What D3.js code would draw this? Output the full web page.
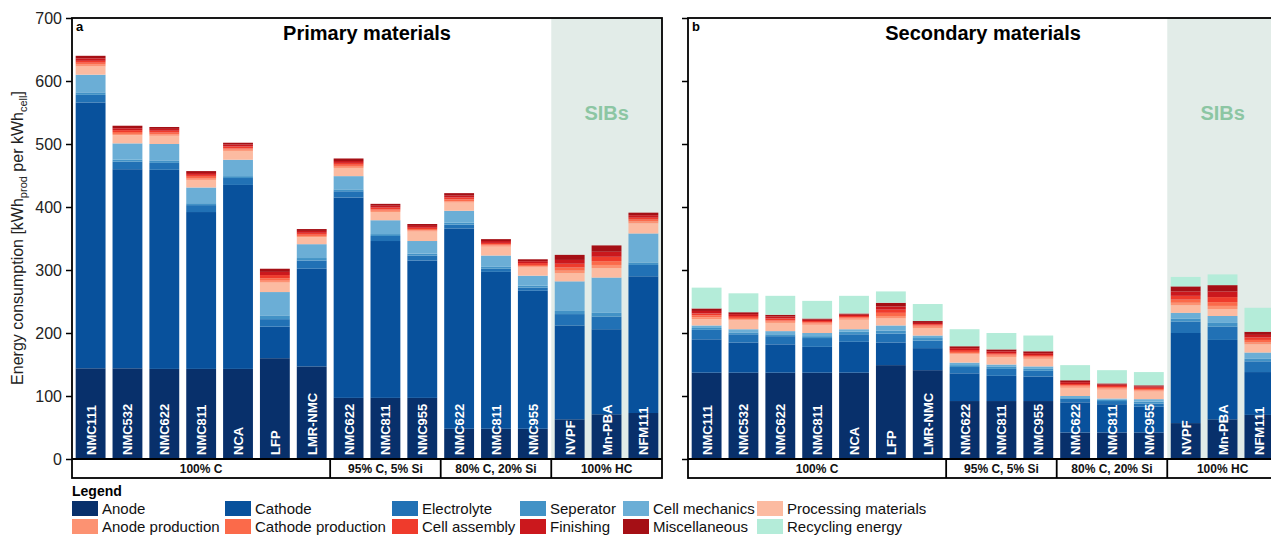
<!DOCTYPE html>
<html><head><meta charset="utf-8">
<script src="https://cdn.jsdelivr.net/npm/d3@7"></script>
<style>body{margin:0;background:#fff}svg{display:block}text{font-family:"Liberation Sans",Arial,sans-serif}</style>
</head><body><svg id="c" width="1271" height="535"></svg>
<script>
const categories = ["NMC111","NMC532","NMC622","NMC811","NCA","LFP","LMR-NMC","NMC622","NMC811","NMC955","NMC622","NMC811","NMC955","NVPF","Mn-PBA","NFM111"];
const groupLabels = ["100% C","95% C, 5% Si","80% C, 20% Si","100% HC"];
const groupSizes = [7,3,3,3];
const yTicks = [0,100,200,300,400,500,600,700];
const seriesNames = ["Anode","Cathode","Electrolyte","Seperator","Cell mechanics","Processing materials","Anode production","Cathode production","Cell assembly","Finishing","Miscellaneous","Recycling energy"];
const seriesColors = ["#08306b","#08519c","#2171b5","#4292c6","#6baed6","#fcbba1","#fc9272","#fb6a4a","#ef3b2c","#cb181d","#a50f15","#b4ecd9"];

// Panel a: primary materials
const aAnode        = [144,144,143,143,143,160,147,97,97,97,48,48,48,63,71,73];
const aCathode      = [422,316,316,249,292,50,155,318,249,218,318,249,219,149,135,217];
const aElectrolyte  = [12,12,11,11,11,12,13,10,8,8,6,5,5,18,20,18];
const aSeparator    = [4,3,4,3,3,6,4,3,3,3,3,3,3,5,6,4];
const aCellMech     = [28,26,26,25,26,37,22,21,22,20,19,18,16,47,56,46];
const aProcessing   = [13,13,13,12,14,15,11,13,13,15,13,14,13,13,15,16];
const aAnodeProd    = [3,2,2,2,2,3,2,2,2,2,2,2,2,4,5,3];
const aCathodeProd  = [3,3,3,3,2,4,2,3,2,2,3,2,2,5,6,3];
const aCellAssembly = [3,3,3,3,3,5,3,3,3,2,3,2,3,6,7,3];
const aFinishing    = [4,3,3,3,3,5,3,3,3,3,3,3,3,6,8,4];
const aMisc         = [4,4,3,3,3,5,3,4,3,3,4,3,3,8,10,4];

// Panel b: secondary materials
const bAnode        = [137,137,137,137,137,149,141,92,92,92,42,42,42,57,63,70];
const bCathode      = [53,48,45,41,49,36,35,44,40,39,48,45,41,143,126,68];
const bElectrolyte  = [15,13,13,14,12,14,12,10,11,9,6,5,5,18,21,17];
const bSeparator    = [3,3,3,3,4,5,4,3,4,3,2,2,3,5,6,4];
const bCellMech     = [4,5,5,5,4,8,4,4,3,4,2,2,4,9,11,10];
const bProcessing   = [10,14,13,13,15,11,12,13,12,12,13,14,12,12,11,13];
const bAnodeProd    = [3,2,2,2,2,4,2,2,2,2,2,2,2,4,5,3];
const bCathodeProd  = [3,2,2,2,2,5,2,2,2,2,2,2,2,5,6,4];
const bCellAssembly = [3,3,3,2,2,5,2,3,2,2,2,2,2,6,8,4];
const bFinishing    = [4,3,3,2,2,5,2,3,3,3,3,2,2,7,9,4];
const bMisc         = [4,3,3,2,2,6,3,3,3,3,3,2,2,8,10,5];
const bRecycling    = [33,30,30,28,28,18,27,27,26,25,24,21,21,15,17,38];

const panelA = [aAnode,aCathode,aElectrolyte,aSeparator,aCellMech,aProcessing,aAnodeProd,aCathodeProd,aCellAssembly,aFinishing,aMisc];
const panelB = [bAnode,bCathode,bElectrolyte,bSeparator,bCellMech,bProcessing,bAnodeProd,bCathodeProd,bCellAssembly,bFinishing,bMisc,bRecycling];

const svg = d3.select("#c");
const plotTop = 18, plotBottom = 459, rowBottom = 478;
const y = d3.scaleLinear().domain([0,700]).range([plotBottom, plotTop]);
const SIB = "#e2ece8";

function drawPanel(x0, x1, series, title, letter, showLabels){
  const g = svg.append("g");
  const x = d3.scaleBand().domain(d3.range(categories.length)).range([x0,x1]).paddingInner(0.19).paddingOuter(0.1);
  let acc = 0; const bounds = [x0];
  groupSizes.forEach((s,i)=>{acc+=s; if(i<groupSizes.length-1){ bounds.push((x(acc-1)+x.bandwidth()+x(acc))/2);} });
  bounds.push(x1);
  g.append("rect").attr("x",bounds[3]).attr("y",plotTop).attr("width",x1-bounds[3]).attr("height",plotBottom-plotTop).attr("fill",SIB);
  g.append("text").attr("x",(bounds[3]+x1)/2).attr("y",120).attr("text-anchor","middle")
    .attr("font-size",20).attr("font-weight","bold").attr("fill","#8cc6a3").text("SIBs");
  const keys = d3.range(series.length);
  const rows = categories.map((c,i)=>{const o={i}; keys.forEach(k=>o[k]=series[k][i]); return o;});
  const stack = d3.stack().keys(keys)(rows);
  stack.forEach((layer,k)=>{
    g.append("g").attr("fill",seriesColors[k]).selectAll("rect").data(layer).join("rect")
      .attr("x",d=>x(d.data.i)).attr("width",x.bandwidth())
      .attr("y",d=>y(d[1])).attr("height",d=>y(d[0])-y(d[1]));
  });
  g.selectAll(".bl").data(categories).join("text")
    .attr("transform",(d,i)=>`translate(${x(i)+x.bandwidth()/2+5},${plotBottom-4}) rotate(-90)`)
    .attr("fill","#fff").attr("font-size",13).attr("font-weight","bold").text(d=>d);
  const ax = d3.axisLeft(y).tickValues(yTicks).tickSize(6).tickPadding(4);
  if(!showLabels) ax.tickFormat("");
  const axg = g.append("g").attr("transform",`translate(${x0},0)`).call(ax);
  axg.select(".domain").remove();
  axg.selectAll("line").attr("stroke","#000").attr("stroke-width",1.5);
  axg.selectAll("text").attr("font-size",16).attr("fill","#222").attr("font-family","Liberation Sans, Arial, sans-serif");
  g.append("rect").attr("x",x0).attr("y",plotTop).attr("width",x1-x0).attr("height",rowBottom-plotTop)
    .attr("fill","none").attr("stroke","#000").attr("stroke-width",1.8);
  g.append("line").attr("x1",x0).attr("x2",x1).attr("y1",plotBottom).attr("y2",plotBottom).attr("stroke","#000").attr("stroke-width",1.8);
  bounds.slice(1,-1).forEach(b=>g.append("line").attr("x1",b).attr("x2",b).attr("y1",plotBottom).attr("y2",rowBottom).attr("stroke","#000").attr("stroke-width",1.8));
  groupLabels.forEach((t,i)=>{
    g.append("text").attr("x",(bounds[i]+bounds[i+1])/2).attr("y",473).attr("text-anchor","middle")
      .attr("font-size",12).attr("font-weight","bold").attr("fill","#111").text(t);
  });
  g.append("text").attr("x",(x0+x1)/2).attr("y",40).attr("text-anchor","middle").attr("font-size",20).attr("font-weight","bold").text(title);
  g.append("text").attr("x",x0+4).attr("y",31).attr("font-size",13).attr("font-weight","bold").text(letter);
}

drawPanel(72, 662, panelA, "Primary materials", "a", true);
drawPanel(688, 1278, panelB, "Secondary materials", "b", false);

const yt = svg.append("text").attr("transform","translate(23,238) rotate(-90)").attr("text-anchor","middle").attr("font-size",16).attr("fill","#222");
yt.append("tspan").text("Energy consumption [kWh");
yt.append("tspan").attr("font-size",11).attr("dy",4).text("prod");
yt.append("tspan").attr("dy",-4).text(" per kWh");
yt.append("tspan").attr("font-size",11).attr("dy",4).text("cell");
yt.append("tspan").attr("dy",-4).text("]");

svg.append("text").attr("x",72).attr("y",496).attr("font-size",14).attr("font-weight","bold").text("Legend");
const legCols = [72,225,392,520,623,757];
const legOrder = [[0,1,2,3,4,5],[6,7,8,9,10,11]];
legOrder.forEach((row,r)=>{
  row.forEach((k,c)=>{
    const ly = 501 + r*18;
    svg.append("rect").attr("x",legCols[c]).attr("y",ly).attr("width",26).attr("height",15).attr("fill",seriesColors[k]);
    svg.append("text").attr("x",legCols[c]+30).attr("y",ly+13).attr("font-size",15).attr("fill","#111").text(seriesNames[k]);
  });
});
</script></body></html>
